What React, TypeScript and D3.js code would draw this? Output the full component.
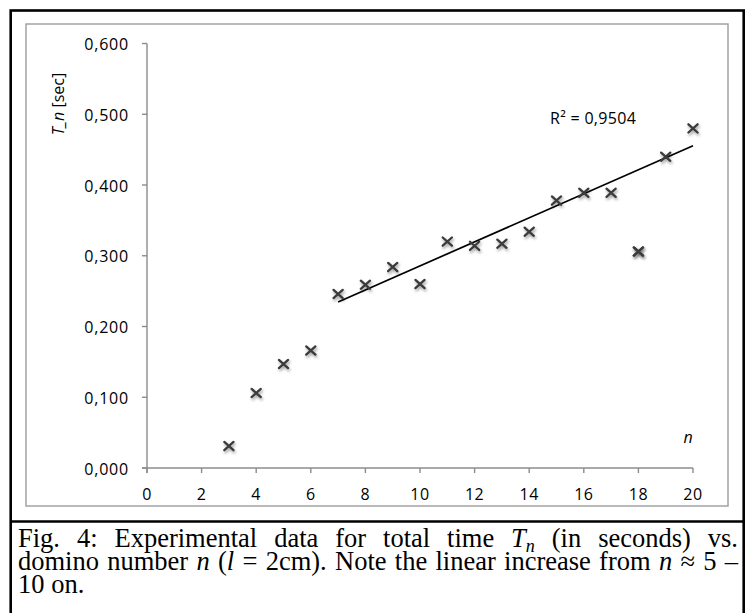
import { useEffect, useRef } from 'react';
import * as d3 from 'd3';

// domino number n and total time T_n [sec]
const nValues = [3, 4, 5, 6, 7, 8, 9, 10, 11, 12, 13, 14, 15, 16, 17, 18, 19, 20];
const tValues = [0.031, 0.106, 0.147, 0.166, 0.246, 0.259, 0.284, 0.260, 0.320, 0.314, 0.317, 0.334, 0.378, 0.389, 0.389, 0.306, 0.440, 0.480];
// the trend only uses n >= 7 and leaves the n = 18 outlier out
const fitFrom = 7;
const fitExcluded = [18];
const rSquaredLabel = 'R² = 0,9504';
const xTicks = [0, 2, 4, 6, 8, 10, 12, 14, 16, 18, 20];
const yTicks = [0, 0.1, 0.2, 0.3, 0.4, 0.5, 0.6];

type Seg = { t: string; it?: boolean; sub?: boolean };
const captionLines: Seg[][][] = [
  [
    [{ t: 'Fig.' }], [{ t: '4:' }], [{ t: 'Experimental' }], [{ t: 'data' }], [{ t: 'for' }],
    [{ t: 'total' }], [{ t: 'time' }], [{ t: 'T', it: true }, { t: 'n', it: true, sub: true }],
    [{ t: '(in' }], [{ t: 'seconds)' }], [{ t: 'vs.' }],
  ],
  [
    [{ t: 'domino' }], [{ t: 'number' }], [{ t: 'n', it: true }], [{ t: '(' }, { t: 'l', it: true }],
    [{ t: '=' }], [{ t: '2cm).' }], [{ t: 'Note' }], [{ t: 'the' }], [{ t: 'linear' }],
    [{ t: 'increase' }], [{ t: 'from' }], [{ t: 'n', it: true }], [{ t: '≈' }], [{ t: '5' }], [{ t: '–' }],
  ],
  [[{ t: '10' }], [{ t: 'on.' }]],
];

const W = 750;
const H = 613;
const labelFont = '"Open Sans", Calibri, sans-serif';
const captionFont = '"Liberation Serif", "Times New Roman", serif';
const captionSize = 26.5;

export default function App() {
  const capRef = useRef<SVGGElement>(null);

  const x = d3.scaleLinear().domain([0, 20]).range([147, 693]);
  const y = d3.scaleLinear().domain([0, 0.6]).range([468, 43.5]);
  const fmt = (v: number) => d3.format('.3f')(v).replace('.', ',');

  // least squares fit for the trend line
  const fitPts = nValues
    .map((n, i) => [n, tValues[i]] as [number, number])
    .filter(([n]) => n >= fitFrom && !fitExcluded.includes(n));
  const mx = d3.mean(fitPts, d => d[0]) as number;
  const my = d3.mean(fitPts, d => d[1]) as number;
  const slope = d3.sum(fitPts, d => (d[0] - mx) * (d[1] - my)) / d3.sum(fitPts, d => (d[0] - mx) ** 2);
  const icpt = my - slope * mx;
  const xEnd = d3.max(nValues) as number;
  const trend = d3.line<number>().x(n => x(n)).y(n => y(icpt + slope * n))([fitFrom, xEnd]);

  useEffect(() => {
    if (!capRef.current) return;
    const g = d3.select(capRef.current);
    g.selectAll('*').remove();
    const left = 18;
    const right = 738;
    captionLines.forEach((words, li) => {
      const by = 546.5 + li * 23.3;
      const nodes = words.map(word => {
        const t = g.append('text').attr('y', by);
        word.forEach(s => {
          const ts = t.append('tspan').text(s.t);
          if (s.it) ts.attr('font-style', 'italic');
          if (s.sub) ts.attr('font-size', captionSize * 0.68).attr('dy', 5);
        });
        return t;
      });
      const widths = nodes.map(n => (n.node() as SVGTextElement).getComputedTextLength());
      const total = d3.sum(widths);
      const justify = li < captionLines.length - 1;
      const gap = justify ? (right - left - total) / (nodes.length - 1) : captionSize * 0.25;
      let cx = left;
      nodes.forEach((n, i) => {
        n.attr('x', cx);
        cx += widths[i] + gap;
      });
    });
  }, []);

  const marker = (n: number, v: number, key: string) => (
    <g key={key} transform={`translate(${x(n)},${y(v)})`} filter="url(#mshadow)">
      <path d="M-4.6,-4.1 L4.6,4.1 M-4.6,4.1 L4.6,-4.1" stroke="#3a3a3a" strokeWidth={2.3} strokeLinecap="round" fill="none" />
    </g>
  );

  return (
    <svg width={W} height={H} style={{ position: 'absolute', left: 0, top: 0, background: '#fff' }}>
      <defs>
        <filter id="mshadow" x="-1" y="-1" width="3" height="3">
          <feGaussianBlur in="SourceGraphic" stdDeviation={0.5} result="core" />
          <feGaussianBlur in="SourceAlpha" stdDeviation={1.6} result="b" />
          <feOffset in="b" dx={1} dy={1.5} result="o" />
          <feComponentTransfer in="o" result="sh">
            <feFuncA type="linear" slope={0.4} />
          </feComponentTransfer>
          <feMerge>
            <feMergeNode in="sh" />
            <feMergeNode in="core" />
          </feMerge>
        </filter>
      </defs>

      {/* outer figure box and caption separator */}
      <rect x={10.7} y={10.5} width={733} height={H + 10} fill="none" stroke="#000" strokeWidth={2.6} />
      <line x1={10} x2={744} y1={521.5} y2={521.5} stroke="#000" strokeWidth={2.6} />

      {/* chart area frame */}
      <rect x={26} y={24} width={702} height={482} fill="#fff" stroke="#a3a3a3" strokeWidth={1.5} />

      {/* y axis */}
      <line x1={x(0)} x2={x(0)} y1={y(0.6)} y2={y(0) + 5} stroke="#8c8c8c" strokeWidth={1.4} />
      {yTicks.map(v => (
        <g key={`y${v}`}>
          <line x1={x(0) - 5} x2={x(0)} y1={y(v)} y2={y(v)} stroke="#8c8c8c" strokeWidth={1.4} />
          <text x={129} y={y(v) + 6.5} textAnchor="end" fontFamily={labelFont} fontSize={16} letterSpacing={0.8} fill="#000">
            {fmt(v)}
          </text>
        </g>
      ))}

      {/* x axis */}
      <line x1={x(0) - 5} x2={x(20)} y1={y(0)} y2={y(0)} stroke="#8c8c8c" strokeWidth={1.4} />
      {xTicks.map(v => (
        <g key={`x${v}`}>
          <line x1={x(v)} x2={x(v)} y1={y(0)} y2={y(0) + 5} stroke="#8c8c8c" strokeWidth={1.4} />
          <text x={x(v)} y={499.5} textAnchor="middle" fontFamily={labelFont} fontSize={16} letterSpacing={0.5} fill="#000">
            {v}
          </text>
        </g>
      ))}

      {/* axis titles */}
      <text transform="translate(64,104) rotate(-90)" textAnchor="middle" fontFamily={labelFont} fontSize={16} fill="#000">
        <tspan fontStyle="italic">T_n</tspan>
        <tspan> [sec]</tspan>
      </text>
      <text x={688} y={443} textAnchor="middle" fontFamily={labelFont} fontSize={16} fontStyle="italic" fill="#000">n</text>

      {/* trend line */}
      <path d={trend ?? ''} stroke="#000" strokeWidth={1.7} fill="none" />
      <text x={550} y={124} fontFamily={labelFont} fontSize={16} letterSpacing={0.3} fill="#000">{rSquaredLabel}</text>

      {/* data points */}
      {nValues.map((n, i) => marker(n, tValues[i], `p${n}`))}
      {fitExcluded.map(n => marker(n, tValues[nValues.indexOf(n)], `e${n}`))}

      {/* caption */}
      <g ref={capRef} fontFamily={captionFont} fontSize={captionSize} fill="#000" />
    </svg>
  );
}
